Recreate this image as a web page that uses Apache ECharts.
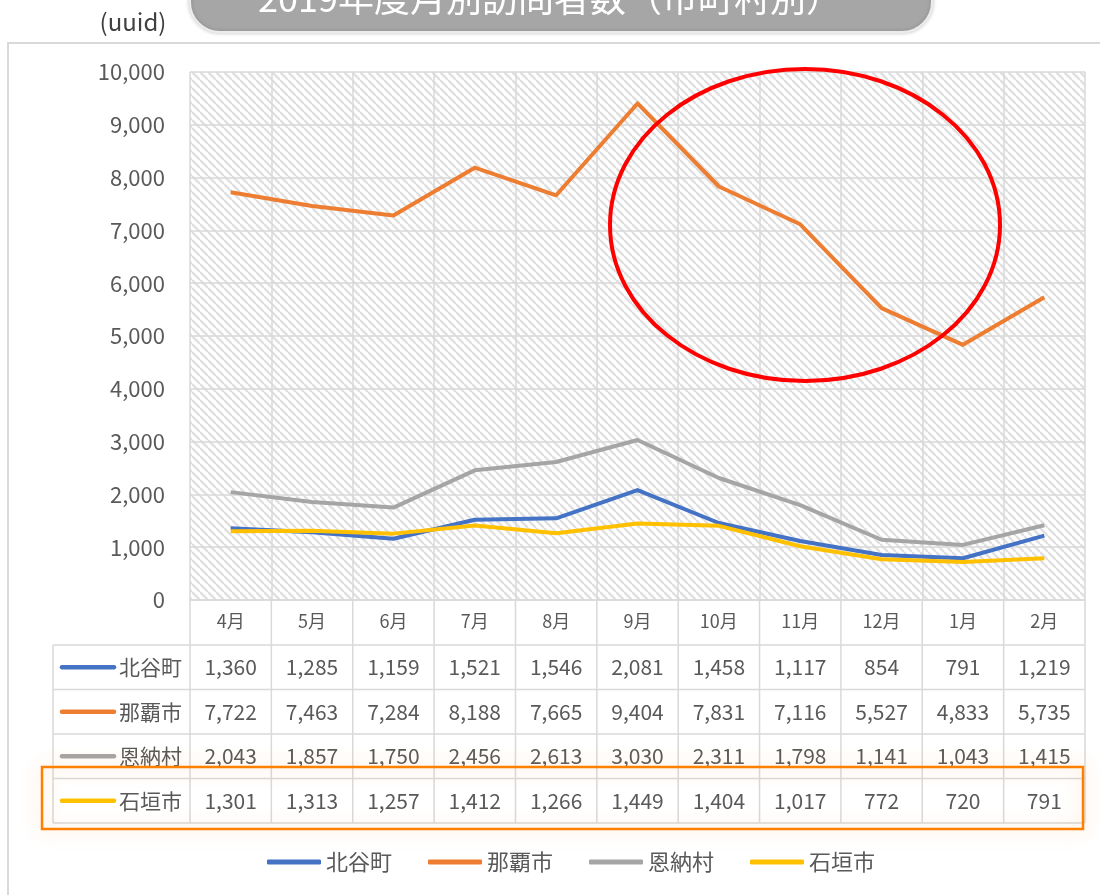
<!DOCTYPE html>
<html><head><meta charset="utf-8">
<script src="https://cdn.jsdelivr.net/npm/echarts@6/dist/echarts.min.js"></script>
<style>html,body{margin:0;padding:0;background:#fff}#c{width:1100px;height:895px}</style>
</head><body><div id="c"></div>
<script>
const chartTitle = '2019年度月別訪問者数（市町村別）';
const unitLabel = '(uuid)';
const months = ['4月','5月','6月','7月','8月','9月','10月','11月','12月','1月','2月'];
const seriesNames = ['北谷町','那覇市','恩納村','石垣市'];
const chatan   = [1360,1285,1159,1521,1546,2081,1458,1117,854,791,1219];
const naha     = [7722,7463,7284,8188,7665,9404,7831,7116,5527,4833,5735];
const onna     = [2043,1857,1750,2456,2613,3030,2311,1798,1141,1043,1415];
const ishigaki = [1301,1313,1257,1412,1266,1449,1404,1017,772,720,791];
const yTicks = {min:0, max:10000, interval:1000};

const colors = ['#4472C4','#ED7D31','#A5A5A5','#FFC000'];
const dataRows = [chatan, naha, onna, ishigaki];
const FONT = '"Noto Sans CJK JP", "Noto Sans", sans-serif';
const TXT = '#595959';
const GRIDC = '#d9d9d9';
const fmt = v => Number(v).toLocaleString('en-US');

// hatch pattern
const P = 8;
const pc = document.createElement('canvas'); pc.width = P; pc.height = P;
const g = pc.getContext('2d');
g.fillStyle = '#ffffff'; g.fillRect(0,0,P,P);
g.strokeStyle = '#e0e0e0'; g.lineWidth = 2.4;
for (let k=-1;k<=1;k++){ g.beginPath(); g.moveTo(0,k*P); g.lineTo(P,P+k*P); g.stroke(); }

const chart = echarts.init(document.getElementById('c'));
chart.setOption({
  animation:false,
  backgroundColor:'#fff',
  textStyle:{fontFamily:FONT},
  grid:{left:190,right:15,top:72,bottom:295,show:true,
        backgroundColor:{image:pc,repeat:'repeat'},borderWidth:0},
  legend:{data:seriesNames,left:262,top:846,itemWidth:54,itemHeight:5,itemGap:36,
          icon:'roundRect',textStyle:{fontSize:22,color:TXT,fontFamily:FONT}},
  xAxis:{type:'category',data:months,boundaryGap:true,
         axisLine:{show:true,lineStyle:{color:GRIDC,width:1.5}},
         axisTick:{show:false},
         axisLabel:{fontSize:18,color:TXT,margin:12,fontFamily:FONT},
         splitLine:{show:true,interval:0,lineStyle:{color:GRIDC,width:1.5}}},
  yAxis:{type:'value',min:yTicks.min,max:yTicks.max,interval:yTicks.interval,
         axisLine:{show:false},axisTick:{show:false},
         axisLabel:{fontSize:22,color:TXT,margin:25,formatter:fmt,fontFamily:FONT},
         splitLine:{lineStyle:{color:GRIDC,width:1.5}}},
  series: seriesNames.map((n,i)=>({name:n,type:'line',data:dataRows[i],symbol:'none',smooth:false,
          lineStyle:{width:4,color:colors[i],join:'round'},itemStyle:{color:colors[i]},z:2+i}))
});

// table built from the axis scale
const xs = months.map((m,i)=>chart.convertToPixel({xAxisIndex:0}, i));
const colW = xs[1]-xs[0];
const bounds = [xs[0]-colW/2].concat(xs.map(x=>x+colW/2));
const plotLeft = bounds[0], plotRight = bounds[bounds.length-1];
const plotBottom = chart.convertToPixel({yAxisIndex:0}, 0);
const tableLeft = 53, headerBottom = 645, rowH = 44.5;
const gr = [];
const ln = (x1,y1,x2,y2)=>gr.push({type:'line',shape:{x1,y1,x2,y2},style:{stroke:GRIDC,lineWidth:1.5},z:5});
const tableBottom = headerBottom + rowH*seriesNames.length;
bounds.forEach(x=>ln(x,plotBottom,x,tableBottom));
ln(tableLeft,headerBottom,tableLeft,tableBottom);
for (let r=0;r<=seriesNames.length;r++) ln(tableLeft,headerBottom+r*rowH,plotRight,headerBottom+r*rowH);
const txt = (x,y,text,align,size,color)=>gr.push({type:'text',x,y,z:6,
  style:{text,fill:color||TXT,font:(size||20)+'px '+FONT,textAlign:align,textVerticalAlign:'middle',align:align,verticalAlign:'middle'}});
seriesNames.forEach((n,r)=>{
  const cy = headerBottom + rowH*r + rowH/2;
  gr.push({type:'line',shape:{x1:62,y1:cy,x2:114,y2:cy},style:{stroke:colors[r],lineWidth:4.5,lineCap:'round'},z:6});
  txt(119,cy,n,'left',21);
  dataRows[r].forEach((v,i)=>txt(xs[i],cy,fmt(v),'center',21));
});
// highlight box around last row
gr.push({type:'rect',shape:{x:42,y:767,width:1041,height:62},
  style:{fill:'none',stroke:'#FF7F00',lineWidth:2.5,shadowBlur:18,shadowColor:'rgba(255,150,60,0.45)'},z:7});
// red ellipse annotation
gr.push({type:'ellipse',shape:{cx:805,cy:225,rx:195,ry:156},
  style:{fill:'none',stroke:'#FF0000',lineWidth:4},z:20});
// frame
gr.push({type:'rect',shape:{x:8,y:43,width:1110,height:900},style:{fill:'none',stroke:GRIDC,lineWidth:2},z:1});
// title box
gr.push({type:'rect',shape:{x:190,y:-45,width:742,height:77,r:30},
  style:{fill:'#A6A6A6',stroke:'#ececec',lineWidth:2,shadowBlur:4,shadowColor:'rgba(0,0,0,0.2)'},z:8});
txt(550,-2,chartTitle,'center',36,'#ffffff');
gr[gr.length-1].z = 9;
txt(133,22,unitLabel,'center',24,'#404040');
chart.setOption({graphic:gr});
</script></body></html>
